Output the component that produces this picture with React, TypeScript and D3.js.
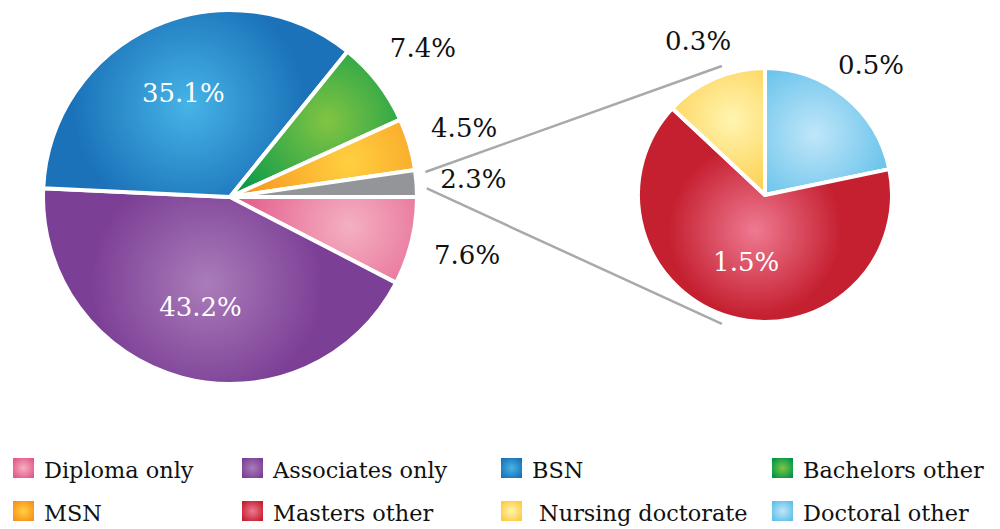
import React from "react";
import * as d3 from "d3";

// ---- data ----
const mainCategories = ["Diploma only", "Associates only", "BSN", "Bachelors other", "MSN", "Other"];
const mainValues = [7.6, 43.2, 35.1, 7.4, 4.5, 2.3];
const mainLabels = ["7.6%", "43.2%", "35.1%", "7.4%", "4.5%", "2.3%"];
const mainLabelInside = [false, true, true, false, false, false];

const subCategories = ["Doctoral other", "Masters other", "Nursing doctorate"];
const subValues = [0.5, 1.5, 0.3];
const subLabels = ["0.5%", "1.5%", "0.3%"];
const subLabelInside = [false, true, false];

const legendRows = [
  ["Diploma only", "Associates only", "BSN", "Bachelors other"],
  ["MSN", "Masters other", " Nursing doctorate", "Doctoral other"],
];

// ---- styles ----
const colors: Record<string, [string, string]> = {
  "Diploma only": ["#f4b0c1", "#e35a8b"],
  "Associates only": ["#aa7cb9", "#7c3f96"],
  BSN: ["#46b4e7", "#1b72b9"],
  "Bachelors other": ["#82c443", "#00974a"],
  MSN: ["#ffd040", "#f6921e"],
  Other: ["#939598", "#939598"],
  "Masters other": ["#ef7a92", "#c52030"],
  "Nursing doctorate": ["#fff5b0", "#fdcb45"],
  "Doctoral other": ["#c0e6f9", "#61c0ea"],
};

const W = 1000;
const H = 529;
const main = { cx: 230, cy: 197, r: 187 };
const sub = { cx: 765, cy: 195, r: 127 };
const FONT = "DejaVu Serif, serif";

function sectorCentroid(a0: number, a1: number, r: number) {
  const th = a1 - a0;
  const d = (4 * r * Math.sin(th / 2)) / (3 * th);
  const m = (a0 + a1) / 2;
  return [Math.sin(m) * d, -Math.cos(m) * d];
}

function polar(a: number, r: number) {
  return [Math.sin(a) * r, -Math.cos(a) * r];
}

const slug = (s: string) => s.trim().replace(/\s+/g, "-");

export default function App() {
  const mainPie = d3
    .pie<number>()
    .sort(null)
    .startAngle(Math.PI / 2)
    .endAngle(Math.PI / 2 + 2 * Math.PI)(mainValues);
  const subPie = d3
    .pie<number>()
    .sort(null)
    .startAngle(0)
    .endAngle(2 * Math.PI)(subValues);

  const mainArc = d3.arc<d3.PieArcDatum<number>>().innerRadius(0).outerRadius(main.r);
  const subArc = d3.arc<d3.PieArcDatum<number>>().innerRadius(0).outerRadius(sub.r);

  // connector lines
  const g = mainPie[mainPie.length - 1];
  const ga0 = g.startAngle + (g.endAngle - g.startAngle) * 0.12;
  const ga1 = g.endAngle - (g.endAngle - g.startAngle) * 0.3;
  const [u0x, u0y] = polar(ga0, main.r + 10);
  const [l0x, l0y] = polar(ga1, main.r + 10);
  const spread = (71.5 * Math.PI) / 180;
  const [u1x, u1y] = polar((3 * Math.PI) / 2 + spread, sub.r + 9);
  const [l1x, l1y] = polar((3 * Math.PI) / 2 - spread, sub.r + 9);

  const legendColX = [13, 242, 501, 772];
  const legendY = d3.scalePoint<number>().domain([0, 1]).range([458, 501]);

  const defs: React.ReactNode[] = [];
  const addGrad = (id: string, cat: string, cx: number, cy: number, r: number) => {
    const [light, dark] = colors[cat];
    defs.push(
      <radialGradient key={id} id={id} gradientUnits="userSpaceOnUse" cx={cx} cy={cy} r={r}>
        <stop offset="0" stopColor={light} />
        <stop offset="1" stopColor={dark} />
      </radialGradient>
    );
  };

  mainPie.forEach((d, i) => {
    const [x, y] = sectorCentroid(d.startAngle, d.endAngle, main.r);
    addGrad(`gm-${i}`, mainCategories[i], x, y, main.r * 0.62);
  });
  subPie.forEach((d, i) => {
    const [x, y] = sectorCentroid(d.startAngle, d.endAngle, sub.r);
    addGrad(`gs-${i}`, subCategories[i], x, y, sub.r * 0.68);
  });
  Object.keys(colors).forEach((cat) => {
    const [light, dark] = colors[cat];
    defs.push(
      <radialGradient key={`lg-${slug(cat)}`} id={`lg-${slug(cat)}`} cx="0.5" cy="0.5" r="0.6">
        <stop offset="0" stopColor={light} />
        <stop offset="1" stopColor={dark} />
      </radialGradient>
    );
  });

  const textStyle = { fontFamily: FONT };

  return (
    <svg width={W} height={H} style={{ position: "absolute", left: 0, top: 0, background: "#fff" }}>
      <defs>{defs}</defs>
      <rect x={0} y={0} width={W} height={H} fill="#fff" />

      {/* connectors */}
      <g stroke="#a7a9ac" strokeWidth={2.5} fill="none">
        <line x1={main.cx + u0x} y1={main.cy + u0y} x2={sub.cx + u1x} y2={sub.cy + u1y} />
        <line x1={main.cx + l0x} y1={main.cy + l0y} x2={sub.cx + l1x} y2={sub.cy + l1y} />
      </g>

      {/* main pie */}
      <g transform={`translate(${main.cx},${main.cy})`}>
        {mainPie.map((d, i) => (
          <path
            key={i}
            d={mainArc(d) || ""}
            fill={`url(#gm-${i})`}
            stroke="#fff"
            strokeWidth={4}
            strokeLinejoin="round"
          />
        ))}
        {mainPie.map((d, i) => {
          const m = (d.startAngle + d.endAngle) / 2;
          const [x, y] = polar(m, mainLabelInside[i] ? 114 : 244);
          return (
            <text
              key={`t${i}`}
              x={x}
              y={y}
              textAnchor="middle"
              dominantBaseline="central"
              fontSize={26}
              style={textStyle}
              fill={mainLabelInside[i] ? "#fff" : "#111"}
            >
              {mainLabels[i]}
            </text>
          );
        })}
      </g>

      {/* sub pie */}
      <g transform={`translate(${sub.cx},${sub.cy})`}>
        {subPie.map((d, i) => (
          <path
            key={i}
            d={subArc(d) || ""}
            fill={`url(#gs-${i})`}
            stroke="#fff"
            strokeWidth={4}
            strokeLinejoin="round"
          />
        ))}
        {subPie.map((d, i) => {
          const m = (d.startAngle + d.endAngle) / 2;
          const [x, y] = polar(m, subLabelInside[i] ? 70 : 168);
          return (
            <text
              key={`t${i}`}
              x={x}
              y={y}
              textAnchor="middle"
              dominantBaseline="central"
              fontSize={26}
              style={textStyle}
              fill={subLabelInside[i] ? "#fff" : "#111"}
            >
              {subLabels[i]}
            </text>
          );
        })}
      </g>

      {/* legend */}
      {legendRows.map((row, ri) =>
        row.map((cat, ci) => {
          const x = legendColX[ci];
          const y = legendY(ri)!;
          return (
            <g key={`${ri}-${ci}`}>
              <rect x={x} y={y} width={21} height={20} fill={`url(#lg-${slug(cat)})`} />
              <text
                x={x + 31}
                y={y + 20}
                fontSize={22.4}
                fill="#111"
                style={{ ...textStyle, whiteSpace: "pre" }}
              >
                {cat}
              </text>
            </g>
          );
        })
      )}
    </svg>
  );
}
